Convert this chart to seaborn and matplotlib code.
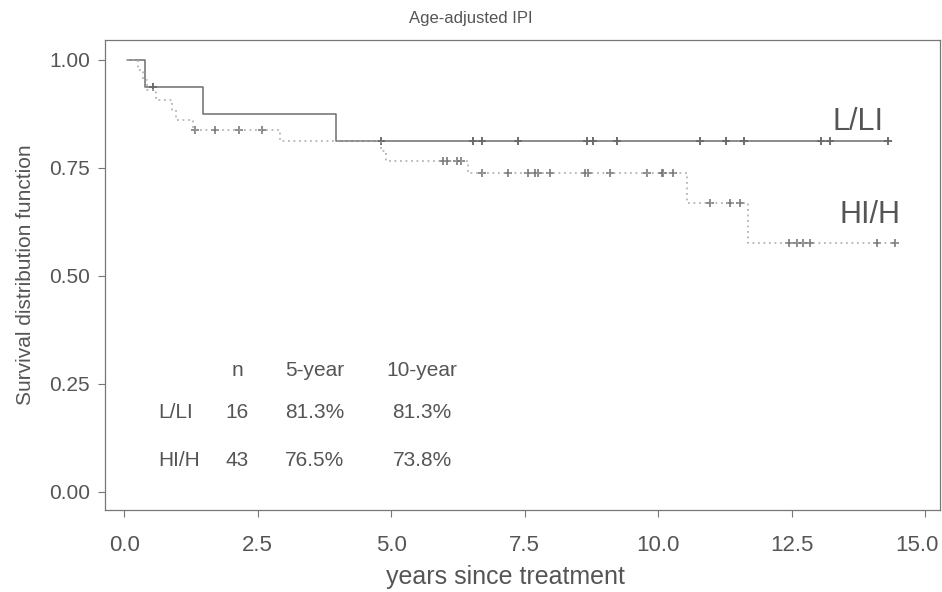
import numpy as np
import pandas as pd
import matplotlib
matplotlib.use("Agg")
import matplotlib.pyplot as plt
import matplotlib.transforms as mtransforms
import seaborn as sns

# ---- data ----
ll_times = [0.05, 0.39, 1.48, 3.97, 14.32]
ll_surv = [1.0, 0.9375, 0.875, 0.8125, 0.8125]
ll_censor = [0.53, 4.80, 6.53, 6.70, 7.38, 8.67, 8.78, 9.23, 10.79, 11.27, 11.60, 13.05, 13.22, 14.30]

hh_times = [0.05, 0.26, 0.36, 0.43, 0.60, 0.90, 0.97, 1.29, 2.92, 4.80, 4.90, 6.44, 10.54, 11.69, 14.53]
hh_surv = [1.0, 0.977, 0.953, 0.930, 0.907, 0.884, 0.860, 0.837, 0.811, 0.788, 0.765, 0.738, 0.669, 0.576, 0.576]
hh_censor = [1.33, 1.70, 2.15, 2.58, 5.97, 6.05, 6.24, 6.30, 6.70, 7.19, 7.57, 7.70, 7.74, 7.98,
             8.63, 8.69, 9.10, 9.79, 10.07, 10.09, 10.28, 10.97, 11.35, 11.54,
             12.45, 12.60, 12.72, 12.85, 14.10, 14.44]

group_labels = ["L/LI", "HI/H"]
table_header = ["n", "5-year", "10-year"]
table_n = [16, 43]
table_5yr = ["81.3%", "76.5%"]
table_10yr = ["81.3%", "73.8%"]

x_ticks = [0.0, 2.5, 5.0, 7.5, 10.0, 12.5, 15.0]
y_ticks = [0.00, 0.25, 0.50, 0.75, 1.00]

sns.set_theme(style="white")
plt.rcParams['font.family'] = ['Liberation Sans', 'DejaVu Sans']

TXT = "#555555"
fig = plt.figure(figsize=(9.42, 5.92), dpi=100)
ax = fig.add_axes([0.1115, 0.1385, 0.8865, 0.794])


def step_at(times, surv, t):
    idx = np.searchsorted(times, t, side="right") - 1
    return np.asarray(surv)[idx]


ll_df = pd.DataFrame({"t": ll_times, "s": ll_surv})
hh_df = pd.DataFrame({"t": hh_times, "s": hh_surv})

sns.lineplot(data=ll_df, x="t", y="s", ax=ax, estimator=None, drawstyle="steps-post",
             color="#6e6e6e", linewidth=1.1)
sns.lineplot(data=hh_df, x="t", y="s", ax=ax, estimator=None, drawstyle="steps-post",
             color="#a8a8a8", linewidth=1.1, linestyle=(0, (1.2, 2.4)))

llc = pd.DataFrame({"t": ll_censor, "s": step_at(ll_times, ll_surv, ll_censor)})
hhc = pd.DataFrame({"t": hh_censor, "s": step_at(hh_times, hh_surv, hh_censor)})
sns.scatterplot(data=llc, x="t", y="s", ax=ax, marker="+", s=28, color="#555555", linewidth=1.2)
sns.scatterplot(data=hhc, x="t", y="s", ax=ax, marker="+", s=28, color="#7a7a7a", linewidth=1.2)

ax.set_xlim(-0.36, 15.28)
ax.set_ylim(-0.042, 1.046)
ax.set_xticks(x_ticks)
ax.set_xticklabels([f"{v:.1f}" for v in x_ticks], fontsize=16)
ax.set_yticks(y_ticks)
ax.set_yticklabels([f"{v:.2f}" for v in y_ticks])
ax.tick_params(axis="both", direction="out", length=5, width=0.8, color="#777777",
               labelcolor=TXT, bottom=True, left=True, pad=6)
ax.tick_params(axis="y", labelsize=15)
ax.tick_params(axis="x", pad=13)
# nudge the last x tick label so it stays inside the figure, as in the reference
last = ax.get_xticklabels()[-1]
last.set_transform(last.get_transform() + mtransforms.ScaledTranslation(-8 / 100, 0, fig.dpi_scale_trans))

for sp in ax.spines.values():
    sp.set_color("#777777")
    sp.set_linewidth(0.9)

ax.set_xlabel("years since treatment", fontsize=18, color=TXT)
ax.xaxis.set_label_coords(0.479, -0.142)
ax.xaxis.label.set_verticalalignment("center")
ax.set_ylabel("Survival distribution function", fontsize=15, color=TXT, labelpad=10)
fig.text(0.5, 0.968, "Age-adjusted IPI", ha="center", va="center", fontsize=12, color=TXT)

# curve labels
ax.text(13.75, 0.857, group_labels[0], fontsize=22, color="#555555", ha="center", va="center")
ax.text(13.97, 0.641, group_labels[1], fontsize=22, color="#555555", ha="center", va="center")

# summary table
fs = 15
col_x = [2.12, 3.56, 5.58]
row_y = [0.282, 0.183, 0.072]
for cx, h in zip(col_x, table_header):
    ax.text(cx, row_y[0], h, fontsize=fs, color=TXT, ha="center", va="center")
for i in range(2):
    ax.text(0.64, row_y[i + 1], group_labels[i], fontsize=fs, color=TXT, ha="left", va="center")
    ax.text(col_x[0], row_y[i + 1], str(table_n[i]), fontsize=fs, color=TXT, ha="center", va="center")
    ax.text(col_x[1], row_y[i + 1], table_5yr[i], fontsize=fs, color=TXT, ha="center", va="center")
    ax.text(col_x[2], row_y[i + 1], table_10yr[i], fontsize=fs, color=TXT, ha="center", va="center")

fig.savefig("out.png", dpi=100)
